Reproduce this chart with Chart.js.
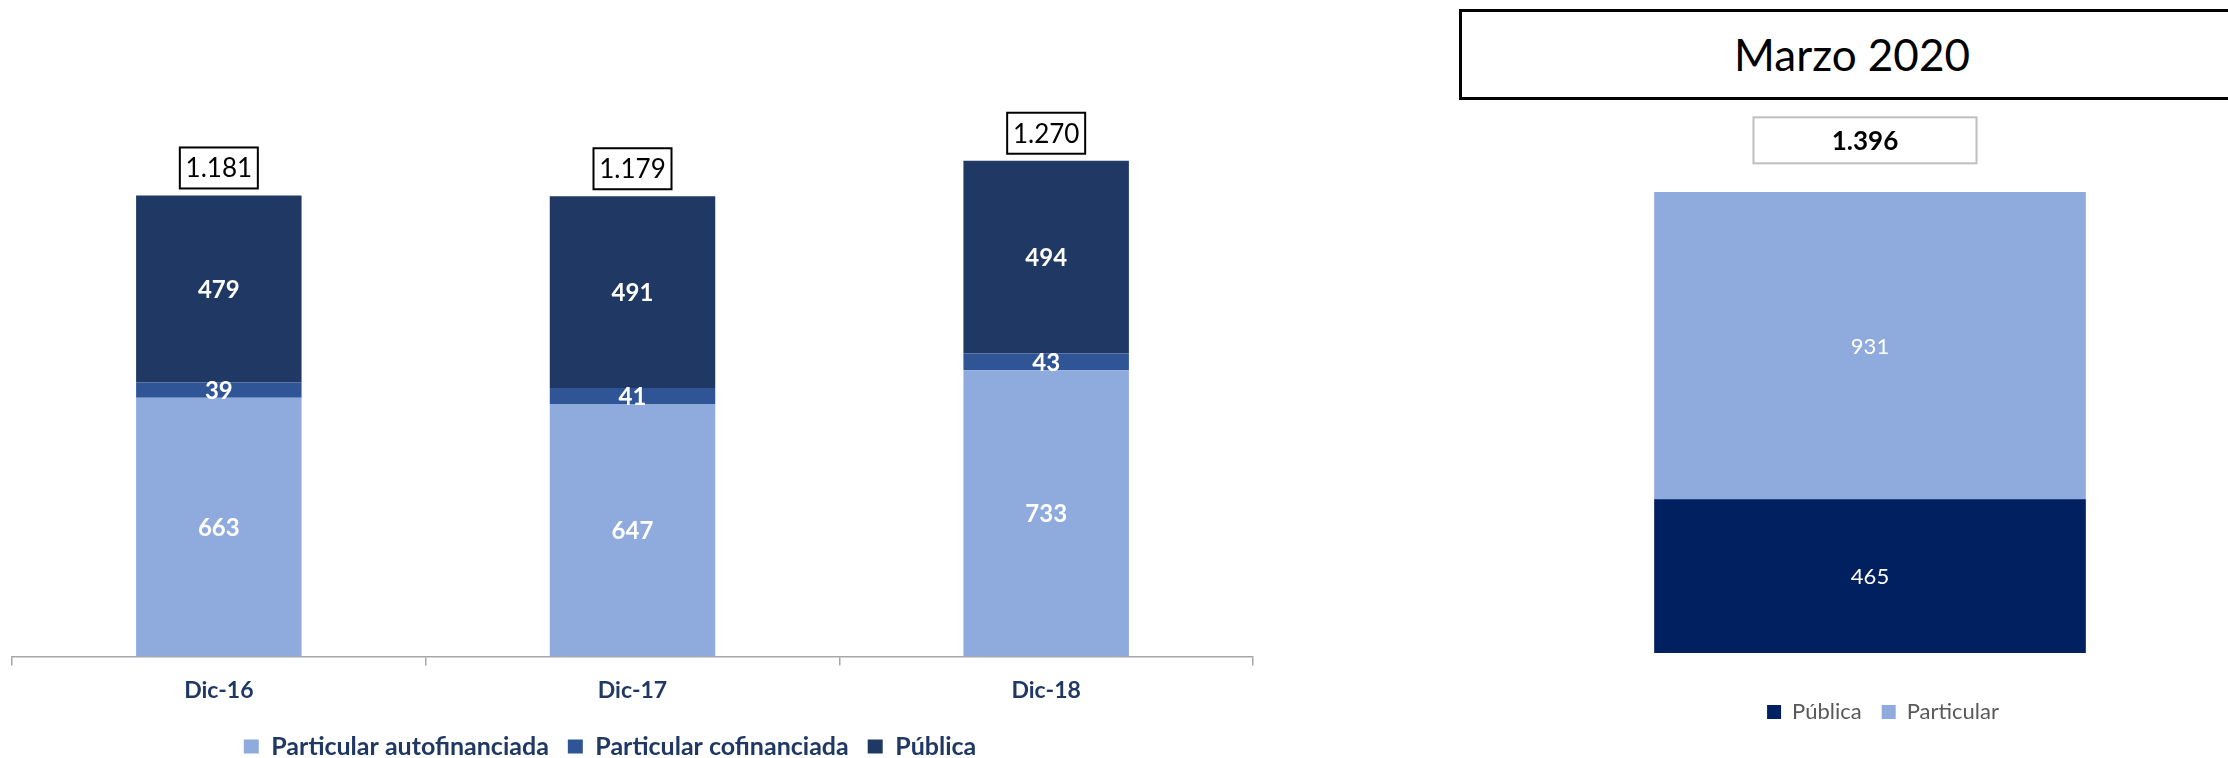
<!DOCTYPE html>
<html>
<head>
<meta charset="utf-8">
<script src="https://cdn.jsdelivr.net/npm/chart.js@4.4.0/dist/chart.umd.min.js"></script>
<style>
    html, body { margin: 0; padding: 0; background: #fff; overflow: hidden; }
    body { width: 2228px; height: 758px; position: relative; font-family: Lato, 'Open Sans', sans-serif; }
    #leftWrap { position: absolute; left: -33px; top: 0; width: 1298px; height: 769px; }
    #rightWrap { position: absolute; left: 1440px; top: 0; width: 788px; height: 758px; }
    #marzoBox {
        position: absolute; left: 1459px; top: 9px; width: 780px; height: 85px;
        border: 3px solid #000; background: #fff;
        font-size: 44px; line-height: 85px; text-align: center; color: #000;
    }
</style>
</head>
<body>
<div id="leftWrap"><canvas id="histChart"></canvas></div>
<div id="rightWrap"><canvas id="marzoChart"></canvas></div>
<div id="marzoBox">Marzo 2020</div>
<script>
// datos historicos (diciembre)
const years = ['Dic-16', 'Dic-17', 'Dic-18'];
const autofinanciada = [663, 647, 733];
const cofinanciada = [39, 41, 43];
const publica = [479, 491, 494];

// marzo 2020
const marzoLabels = ['Marzo 2020'];
const marzoPublica = [465];
const marzoParticular = [931];

const FONT = "Lato, 'Open Sans', sans-serif";

const fmt = (v) => v.toString().replace(/\B(?=(\d{3})+(?!\d))/g, '.');

// eje invisible que solo reserva espacio
const spacer = (size) => ({
    display: true,
    grid: { display: false },
    border: { display: false },
    ticks: { display: false },
    afterFit: (scale) => {
        if (scale.isHorizontal()) scale.height = size;
        else scale.width = size;
    }
});

// etiquetas dentro de los segmentos + caja con el total encima
const valueLabels = {
    id: 'valueLabels',
    afterDatasetsDraw(chart, args, opts) {
        const ctx = chart.ctx;
        ctx.save();
        ctx.textAlign = 'center';
        ctx.textBaseline = 'middle';
        ctx.font = opts.segFont;
        ctx.fillStyle = opts.segColor;
        chart.data.datasets.forEach((ds, i) => {
            const meta = chart.getDatasetMeta(i);
            meta.data.forEach((bar, j) => {
                const y = (bar.y + bar.base) / 2;
                ctx.fillText(fmt(ds.data[j]), bar.x, y + 1);
            });
        });

        const last = chart.getDatasetMeta(chart.data.datasets.length - 1);
        last.data.forEach((bar, j) => {
            let total = 0;
            chart.data.datasets.forEach(ds => total += ds.data[j]);
            const w = opts.boxW, h = opts.boxH;
            const x0 = bar.x - w / 2 + opts.boxDx;
            const y0 = bar.y - opts.boxGap - h;
            ctx.fillStyle = '#fff';
            ctx.fillRect(x0, y0, w, h);
            ctx.lineWidth = 2;
            ctx.strokeStyle = opts.boxBorder;
            ctx.strokeRect(x0, y0, w, h);
            ctx.fillStyle = '#000';
            ctx.font = opts.totalFont;
            ctx.fillText(fmt(total), x0 + w / 2, y0 + h / 2 + 1);
        });
        ctx.restore();
    }
};

new Chart(document.getElementById('histChart'), {
    type: 'bar',
    data: {
        labels: years,
        datasets: [{
            label: 'Particular autofinanciada',
            data: autofinanciada,
            backgroundColor: '#8FAADC'
        }, {
            label: 'Particular cofinanciada',
            data: cofinanciada,
            backgroundColor: '#2F5597'
        }, {
            label: 'Pública',
            data: publica,
            backgroundColor: '#203864'
        }]
    },
    options: {
        responsive: true,
        maintainAspectRatio: false,
        animation: false,
        layout: { padding: { left: 0, right: 12, top: 110, bottom: 0 } },
        datasets: { bar: { barPercentage: 0.4, categoryPercentage: 1 } },
        plugins: {
            legend: {
                position: 'bottom',
                labels: {
                    color: '#1F3864',
                    font: { family: FONT, size: 25, weight: 'bold' },
                    boxWidth: 15,
                    boxHeight: 14,
                    padding: 19
                }
            },
            tooltip: { enabled: false },
            valueLabels: {
                segFont: 'bold 24px ' + FONT,
                segColor: '#fff',
                totalFont: '26px ' + FONT,
                boxW: 78, boxH: 41, boxGap: 7, boxDx: 0,
                boxBorder: '#000'
            }
        },
        scales: {
            x: {
                stacked: true,
                grid: {
                    offset: true,
                    drawOnChartArea: false,
                    color: '#A6A6A6',
                    tickLength: 9,
                    lineWidth: 1.5
                },
                border: { color: '#A6A6A6', width: 1.5 },
                ticks: {
                    color: '#1F3864',
                    font: { family: FONT, size: 23, weight: 'bold' },
                    padding: 11
                }
            },
            y: {
                ...spacer(45),
                stacked: true,
                min: 0,
                max: 1400
            }
        }
    },
    plugins: [valueLabels]
});

new Chart(document.getElementById('marzoChart'), {
    type: 'bar',
    data: {
        labels: marzoLabels,
        datasets: [{
            label: 'Pública',
            data: marzoPublica,
            backgroundColor: '#002060'
        }, {
            label: 'Particular',
            data: marzoParticular,
            backgroundColor: '#8FAADC'
        }]
    },
    options: {
        responsive: true,
        maintainAspectRatio: false,
        animation: false,
        layout: { padding: { left: 150, right: 52, top: 125, bottom: 25 } },
        datasets: { bar: { barThickness: 431 } },
        plugins: {
            legend: {
                position: 'bottom',
                labels: {
                    color: '#595959',
                    font: { family: FONT, size: 22 },
                    boxWidth: 14,
                    boxHeight: 14,
                    padding: 20
                }
            },
            tooltip: { enabled: false },
            valueLabels: {
                segFont: '22px ' + FONT,
                segColor: '#fff',
                totalFont: 'bold 26px ' + FONT,
                boxW: 223, boxH: 46, boxGap: 29, boxDx: -5,
                boxBorder: '#BFBFBF'
            }
        },
        scales: {
            x: { ...spacer(28), stacked: true },
            y: { ...spacer(26), position: 'right', stacked: true, min: 0, max: 1600 }
        }
    },
    plugins: [valueLabels]
});
</script>
</body>
</html>
